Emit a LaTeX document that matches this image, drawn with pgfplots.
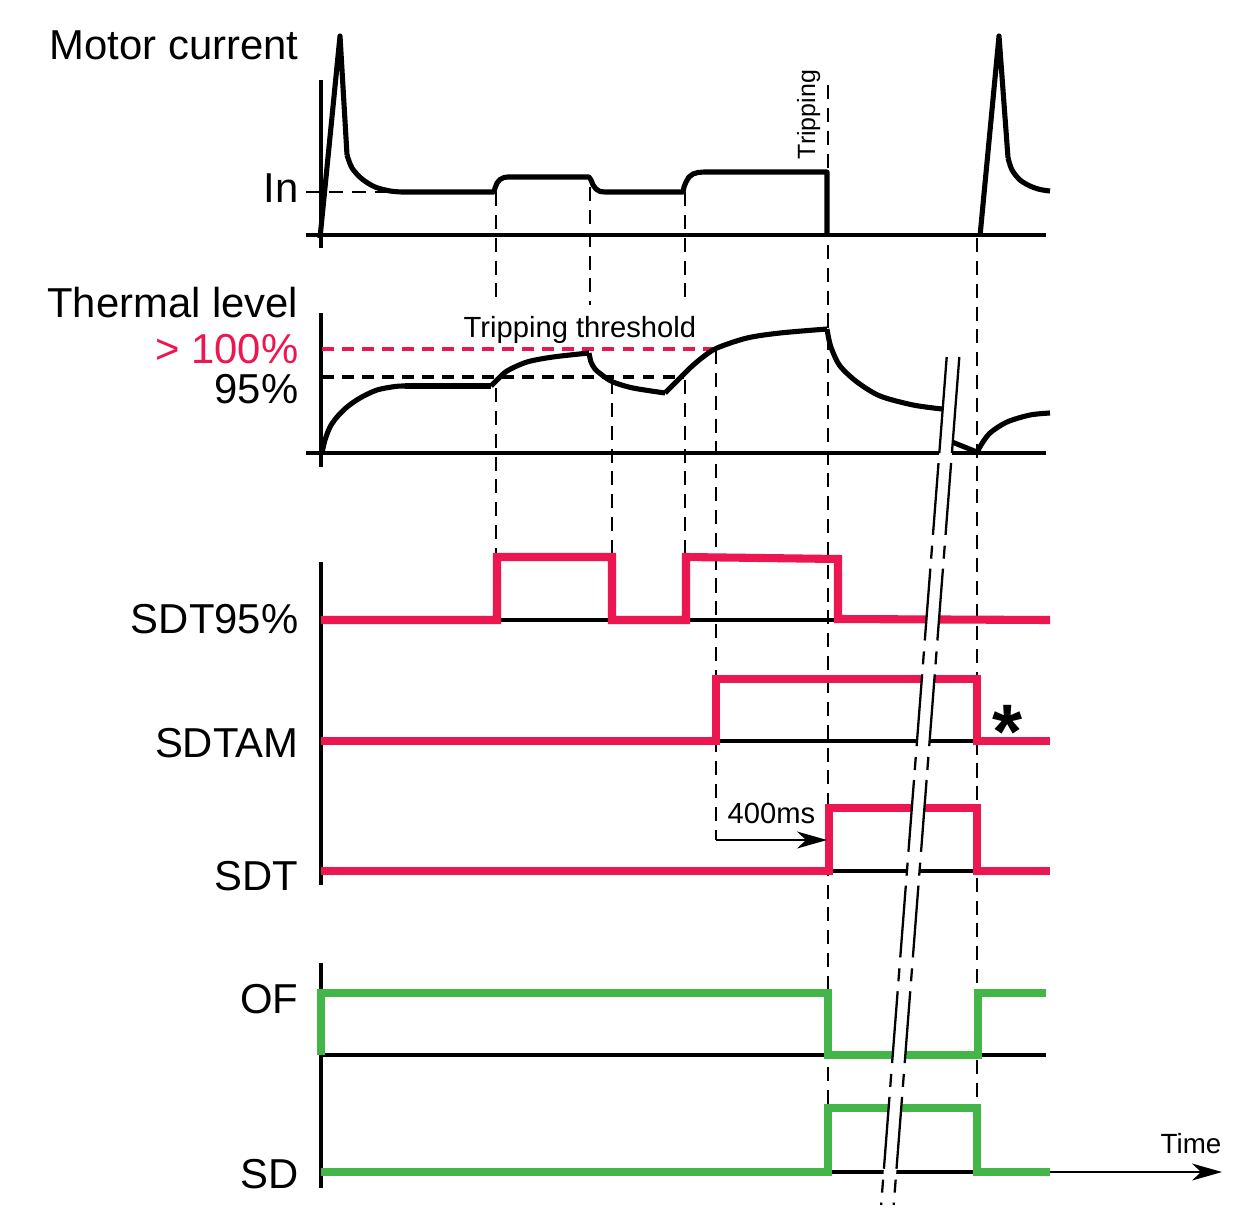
\documentclass[border=0pt]{standalone}
\usepackage{fontspec}
\setmainfont{Liberation Sans}
\usepackage{pgfplots}
\pgfplotsset{compat=1.18}
\usetikzlibrary{arrows.meta}
\definecolor{sred}{HTML}{EC1651}
\definecolor{sgreen}{HTML}{43B549}
\pgfplotsset{
 base/.style={black, line width=1.15pt, line cap=butt},
 guide/.style={black, line width=0.55pt, dash pattern=on 4pt off 2.5pt},
 sig/.style={line width=2.3pt, line join=miter, line cap=butt},
 crv/.style={black, line width=1.45pt, line join=round},
 brk/.style={black, line width=0.65pt},
}
\newcommand{\lbig}{\fontsize{11.9}{14}\selectfont}
\newcommand{\lsm}{\fontsize{8.3}{10}\selectfont}
\begin{document}
\begin{tikzpicture}
\begin{axis}[
  scale only axis, width=124.2mm, height=122.4mm,
  xmin=0, xmax=1242, ymin=0, ymax=1224, y dir=reverse,
  hide axis, clip=false, enlargelimits=false,
]
% background
\addplot[fill=white, draw=none] coordinates {(0,0) (1242,0) (1242,1224) (0,1224)};

% guides
\addplot[guide] coordinates {(306,192) (392,192)};
\addplot[guide] coordinates {(496,192) (496,300)};
\addplot[guide] coordinates {(496,388) (496,553)};
\addplot[guide] coordinates {(590,187) (590,305)};
\addplot[guide] coordinates {(612,380) (612,553)};
\addplot[guide] coordinates {(685,192) (685,300)};
\addplot[guide] coordinates {(685,380) (685,553)};
\addplot[guide] coordinates {(716,350) (716,840)};
\addplot[guide] coordinates {(828,85) (828,1108)};
\addplot[guide] coordinates {(977,238) (977,1108)};

% axes and baselines
\addplot[base] coordinates {(321,80) (321,248)};
\addplot[base] coordinates {(306,235) (1046,235)};
\addplot[base] coordinates {(321,313) (321,467)};
\addplot[base] coordinates {(306,453) (1046,453)};
\addplot[base] coordinates {(321,562) (321,885)};
\addplot[base] coordinates {(321,620) (1050,620)};
\addplot[base] coordinates {(321,741) (1050,741)};
\addplot[base] coordinates {(321,871) (1050,871)};
\addplot[base] coordinates {(321,963) (321,1188)};
\addplot[base] coordinates {(321,1055) (1046,1055)};
\addplot[base] coordinates {(321,1172) (1050,1172)};

% motor current
\addplot[crv] coordinates {(320,238) (340,36) (347,155)};
\addplot[crv, smooth] coordinates {(347,155) (352,168) (362,179) (375,187) (390,191) (402,192)};
\addplot[crv] coordinates {(402,192) (494,192) (495,188) (497,183) (500,179.5) (504,177.5) (508,177)
  (589,177) (591,180) (593,185) (596,189) (600,191.5) (605,192)
  (683,192) (684,187) (686,182) (689,177) (693,174) (698,172.5) (704,172) (827,172) (827,235)};
\addplot[crv] coordinates {(980,236) (999,36) (1008,158)};
\addplot[crv, smooth] coordinates {(1008,158) (1012,170) (1020,180) (1030,186) (1040,189.5) (1050,191)};

% thermal level thresholds
\addplot[sred, line width=1.4pt, dash pattern=on 3.4pt off 2.3pt] coordinates {(322,349) (715,349)};
\addplot[black, line width=1.4pt, dash pattern=on 3.4pt off 2.3pt] coordinates {(322,377) (683,377)};

% thermal curve
\addplot[crv, smooth] coordinates {(322,453) (325,440) (330,427) (337,417) (347,407) (360,398) (377,390) (395,386.5) (405,386)};
\addplot[crv] coordinates {(405,386) (491,386)};
\addplot[crv, smooth] coordinates {(491,386) (497,380) (507,371) (527,362) (553,357) (589,353)};
\addplot[crv, smooth] coordinates {(589,353) (591,362) (595,369) (602,375) (613,382) (633,388) (665,393)};
\addplot[crv, smooth] coordinates {(665,393) (677,381) (690,368) (703,357) (717,348) (747,338) (780,333) (827,329)};
\addplot[crv, smooth] coordinates {(827,329) (829,340) (832,350) (840,366) (857,382) (880,396) (913,405) (942,409)};
\addplot[crv] coordinates {(952,442) (977,452)};
\addplot[crv, smooth] coordinates {(977,453) (981,445) (990,433) (1007,422) (1030,415) (1050,413)};

% signals
\addplot[sig, sred] coordinates {(321,620) (497,620) (497,557) (612,557) (612,620) (686,620) (686,557) (838,559) (838,619) (1050,620)};
\addplot[sig, sred] coordinates {(321,741) (716,741) (716,679) (977,679) (977,741) (1050,741)};
\addplot[sig, sred] coordinates {(321,871) (829,871) (829,808) (977,808) (977,871) (1050,871)};
\addplot[sig, sgreen] coordinates {(321,1055) (321,993) (828,993) (828,1055) (978,1055) (978,993) (1046,993)};
\addplot[sig, sgreen] coordinates {(321,1172) (828,1172) (828,1108) (977,1108) (977,1172) (1050,1172)};

% arrows
\addplot[black, line width=0.45pt, -{Stealth[length=3mm,width=1.7mm,inset=0.9mm]}] coordinates {(716,840) (827,840)};
\addplot[black, line width=0.45pt, -{Stealth[length=3mm,width=1.7mm,inset=0.9mm]}] coordinates {(1050,1172) (1222,1172)};

% break band
\addplot[fill=white, draw=none] coordinates {(946.7,357) (959.3,357) (893.7,1205) (881.1,1205)};
\addplot[brk] coordinates {(946.7,357) (939.3,453)};
\addplot[brk] coordinates {(959.3,357) (951.9,453)};
\addplot[brk, dash pattern=on 20.5pt off 3.1pt on 3.7pt off 2.85pt] coordinates {(938.5,463) (881.1,1205)};
\addplot[brk, dash pattern=on 20.5pt off 3.1pt on 3.7pt off 2.85pt] coordinates {(951.1,463) (893.7,1205)};

% texts
\node[anchor=base east, inner sep=0pt, font=\lbig] at (axis cs:299,60) {Motor current};
\node[anchor=base east, inner sep=0pt, font=\lbig] at (axis cs:299,202) {In};
\node[anchor=base east, inner sep=0pt, font=\lbig] at (axis cs:299,317) {Thermal level};
\node[anchor=base east, inner sep=0pt, font=\lbig, text=sred] at (axis cs:299,363) {> 100\%};
\node[anchor=base east, inner sep=0pt, font=\lbig] at (axis cs:299,403) {95\%};
\node[anchor=base east, inner sep=0pt, font=\lbig] at (axis cs:299,633) {SDT95\%};
\node[anchor=base east, inner sep=0pt, font=\lbig] at (axis cs:299,757) {SDTAM};
\node[anchor=base east, inner sep=0pt, font=\lbig] at (axis cs:299,890) {SDT};
\node[anchor=base east, inner sep=0pt, font=\lbig] at (axis cs:299,1013) {OF};
\node[anchor=base east, inner sep=0pt, font=\lbig] at (axis cs:299,1188) {SD};
\node[anchor=base west, inner sep=0pt, font=\lsm] at (axis cs:463,337) {Tripping threshold};
\node[anchor=base west, inner sep=0pt, font=\lsm] at (axis cs:727,823) {400ms};
\node[anchor=base west, inner sep=0pt, font=\fontsize{7.1}{9}\selectfont, rotate=90] at (axis cs:815,160) {Tripping};
\node[anchor=base west, inner sep=0pt, font=\fontsize{7.9}{9}\selectfont] at (axis cs:1160,1153) {Time};
\node[anchor=base, inner sep=0pt, font=\fontsize{22}{24}\selectfont\bfseries] at (axis cs:1008,758) {*};
\end{axis}
\end{tikzpicture}
\end{document}
